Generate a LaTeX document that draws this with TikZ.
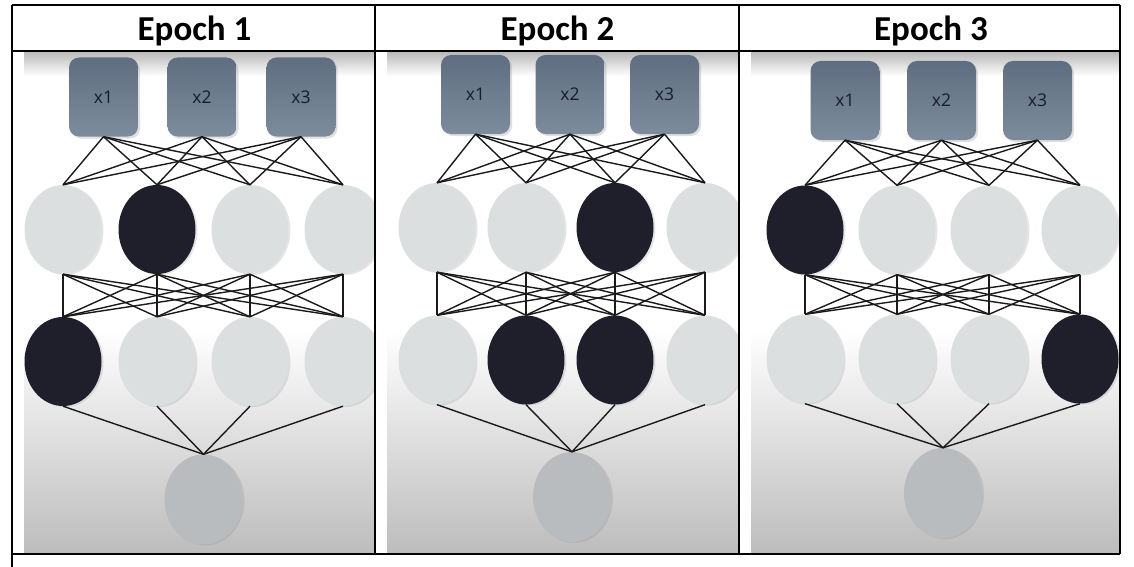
\documentclass[tikz,border=0pt]{standalone}
\usepackage{fontspec}
\newfontfamily\headfont{Carlito}
\newfontfamily\labfont{Open Sans}
\usetikzlibrary{shapes.geometric, shadows, positioning}

\definecolor{boxtop}{HTML}{5E6E80}
\definecolor{boxbot}{HTML}{7D8C9D}
\definecolor{nlight}{HTML}{DCDFE0}
\definecolor{ndark}{HTML}{1E1F2B}
\definecolor{nout}{HTML}{B9BCBE}
\definecolor{labtxt}{HTML}{161D28}
\definecolor{wirec}{HTML}{1A1A1A}

\begin{document}
\begin{tikzpicture}[x=1pt, y=-1pt,
  headtxt/.style={font=\headfont\bfseries\fontsize{35}{38}\selectfont, anchor=base, inner sep=0pt},
  inbox/.style={rectangle, rounded corners=10pt, top color=boxtop, bottom color=boxbot,
                minimum width=69pt, minimum height=79pt, inner sep=0pt,
                font=\labfont\fontsize{17.5}{20}\selectfont, text=labtxt,
                drop shadow={opacity=0.25, shadow xshift=2pt, shadow yshift=-2pt}},
  hlight/.style={ellipse, fill=nlight, minimum width=77pt, minimum height=89pt, inner sep=0pt,
                 drop shadow={opacity=0.2, shadow xshift=2pt, shadow yshift=-1pt}},
  hdark/.style={hlight, fill=ndark},
  onode/.style={hlight, fill=nout, minimum width=78pt, minimum height=90pt},
  wire/.style={draw=wirec, line width=1.4pt},
  grid/.style={draw=black, line width=1.3pt}
]
\useasboundingbox (0,0) rectangle (1134,567);

%% cell backgrounds (white, shaded at the top edge and towards the bottom)
\foreach \l/\r in {24/374, 387/738, 751/1119} {
  \fill[top color=gray!55, bottom color=white] (\l,52) rectangle (\r,76);
  \fill[white] (\l,76) rectangle (\r,330);
  \fill[top color=white, bottom color=gray!52] (\l,330) rectangle (\r,553);
}

%% table head
\node[headtxt] (h1) at (194.5, 41) {Epoch 1};
\node[headtxt] (h2) at (557.5, 41) {Epoch 2};
\node[headtxt] (h3) at (931, 41) {Epoch 3};

%% Epoch 1 (dropped: 2nd of layer 1, 1st of layer 2)
\begin{scope}
\clip (24,52) rectangle (374,553);
\node[inbox] (e1x1) at (103.5, 97) {x1};
\node[inbox] (e1x2) at (202, 97) {x2};
\node[inbox] (e1x3) at (301, 97) {x3};
\node[hlight] (e1h1) at (63, 229.5) {};
\node[hdark]  (e1h2) at (157, 229.5) {};
\node[hlight] (e1h3) at (250, 229.5) {};
\node[hlight] (e1h4) at (343, 229.5) {};
\node[hdark]  (e1g1) at (63, 361.5) {};
\node[hlight] (e1g2) at (157, 361.5) {};
\node[hlight] (e1g3) at (250, 361.5) {};
\node[hlight] (e1g4) at (343, 361.5) {};
\node[onode]  (e1y)  at (203.5, 499.5) {};
\foreach \i in {1,2,3} \foreach \j in {1,...,4} \draw[wire] (e1x\i.south) -- (e1h\j.north);
\foreach \i in {1,...,4} \foreach \j in {1,...,4} \draw[wire] (e1h\i.south) -- (e1g\j.north);
\foreach \i in {1,...,4} \draw[wire] (e1g\i.south) -- (e1y.north);
\end{scope}

%% Epoch 2 (dropped: 3rd of layer 1, 2nd and 3rd of layer 2)
\begin{scope}
\clip (387,52) rectangle (738,552);
\node[inbox] (e2x1) at (475.5, 94.5) {x1};
\node[inbox] (e2x2) at (570, 94.5) {x2};
\node[inbox] (e2x3) at (664.5, 94.5) {x3};
\node[hlight] (e2h1) at (437, 227.5) {};
\node[hlight] (e2h2) at (526, 227.5) {};
\node[hdark]  (e2h3) at (615, 227.5) {};
\node[hlight] (e2h4) at (705, 227.5) {};
\node[hlight] (e2g1) at (437, 360) {};
\node[hdark]  (e2g2) at (526, 360) {};
\node[hdark]  (e2g3) at (615, 360) {};
\node[hlight] (e2g4) at (705, 360) {};
\node[onode]  (e2y)  at (572, 497) {};
\foreach \i in {1,2,3} \foreach \j in {1,...,4} \draw[wire] (e2x\i.south) -- (e2h\j.north);
\foreach \i in {1,...,4} \foreach \j in {1,...,4} \draw[wire] (e2h\i.south) -- (e2g\j.north);
\foreach \i in {1,...,4} \draw[wire] (e2g\i.south) -- (e2y.north);
\end{scope}

%% Epoch 3 (dropped: 1st of layer 1, 4th of layer 2)
\begin{scope}
\clip (751,52) rectangle (1119,552);
\node[inbox] (e3x1) at (845, 100.5) {x1};
\node[inbox] (e3x2) at (941.5, 100.5) {x2};
\node[inbox] (e3x3) at (1037.5, 100.5) {x3};
\node[hdark]  (e3h1) at (805, 230) {};
\node[hlight] (e3h2) at (897, 230) {};
\node[hlight] (e3h3) at (989, 230) {};
\node[hlight] (e3h4) at (1080, 230) {};
\node[hlight] (e3g1) at (805, 359) {};
\node[hlight] (e3g2) at (897, 359) {};
\node[hlight] (e3g3) at (989, 359) {};
\node[hdark]  (e3g4) at (1080, 359) {};
\node[onode]  (e3y)  at (943, 493) {};
\foreach \i in {1,2,3} \foreach \j in {1,...,4} \draw[wire] (e3x\i.south) -- (e3h\j.north);
\foreach \i in {1,...,4} \foreach \j in {1,...,4} \draw[wire] (e3h\i.south) -- (e3g\j.north);
\foreach \i in {1,...,4} \draw[wire] (e3g\i.south) -- (e3y.north);
\end{scope}

%% table rules
\draw[grid] (12,5) -- (1120,5);
\draw[grid] (12,51) -- (1120,51);
\draw[grid] (12,554) -- (1120,554);
\draw[grid] (12,5) -- (12,567);
\draw[grid] (375,5) -- (375,554);
\draw[grid] (739,5) -- (739,554);
\draw[grid] (1120,5) -- (1120,554);

\end{tikzpicture}
\end{document}
